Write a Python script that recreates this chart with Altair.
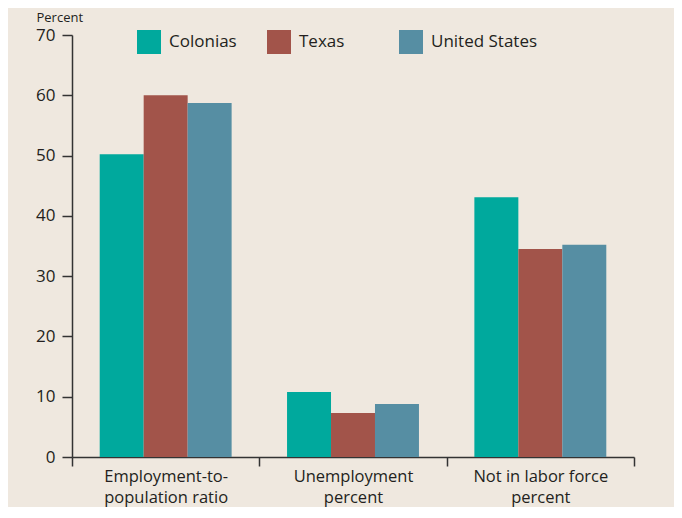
import altair as alt
import pandas as pd

categories = ["Employment-to-|population ratio", "Unemployment|percent", "Not in labor force|percent"]
series = ["Colonias", "Texas", "United States"]
colonias = [50.2, 10.8, 43.1]
texas = [60.0, 7.3, 34.5]
united_states = [58.7, 8.8, 35.2]
colors = ["#00a99d", "#a2544a", "#568ea3"]
y_ticks = [0, 10, 20, 30, 40, 50, 60, 70]

rows = []
for i, c in enumerate(categories):
    for s, vals in zip(series, [colonias, texas, united_states]):
        rows.append({"category": c, "series": s, "value": vals[i]})
df = pd.DataFrame(rows)

FONT = "Open Sans"
TXT = "#231f20"
AX = "#333333"
PAD = "\u2800" * 2

chart = alt.Chart(df).mark_bar().encode(
    x=alt.X(
        "category:N",
        sort=categories,
        scale=alt.Scale(paddingInner=0, paddingOuter=0),
        axis=alt.Axis(
            title=None, labelAngle=0, labelExpr="split(datum.label, '|')",
            tickBand="extent", tickSize=9, labelPadding=2, labelFontSize=16.5,
            labelLineHeight=21, labelColor=TXT, labelFont=FONT,
            domainColor=AX, tickColor=AX, domainWidth=1.5, tickWidth=1.5,
        ),
    ),
    xOffset=alt.XOffset("series:N", sort=series, scale=alt.Scale(paddingInner=0, paddingOuter=0.63)),
    y=alt.Y(
        "value:Q",
        scale=alt.Scale(domain=[0, 70], nice=False),
        axis=alt.Axis(
            values=y_ticks, title="Percent", grid=False, tickSize=10, labelPadding=7,
            labelFontSize=17, labelColor=TXT, labelFont=FONT,
            domainColor=AX, tickColor=AX, domainWidth=1.5, tickWidth=1.5,
            titleAngle=0, titleX=-36, titleY=-14, titleAlign="left",
            titleBaseline="alphabetic", titleFontSize=13, titleFontWeight="normal",
            titleColor=TXT, titleFont=FONT,
        ),
    ),
    color=alt.Color(
        "series:N", sort=series,
        scale=alt.Scale(domain=series, range=colors),
        legend=alt.Legend(
            title=None, orient="none", legendX=65, legendY=-5, direction="horizontal",
            columns=3, gridAlign="each", columnPadding=30,
            labelExpr="datum.label == 'Texas' ? 'Texas" + PAD + "' : datum.label",
            symbolType="square", symbolSize=576, symbolStrokeWidth=0, symbolOpacity=1,
            labelFontSize=17, labelOffset=8, labelColor=TXT, labelFont=FONT,
            padding=0,
        ),
    ),
).properties(
    width=562, height=422, background="#efe8df",
    padding={"left": 64, "top": 27, "right": 40, "bottom": 50},
    autosize=alt.AutoSizeParams(type="none"),
).configure_view(stroke=None)

chart.save("out.html", embed_options={"renderer": "svg", "actions": False})
